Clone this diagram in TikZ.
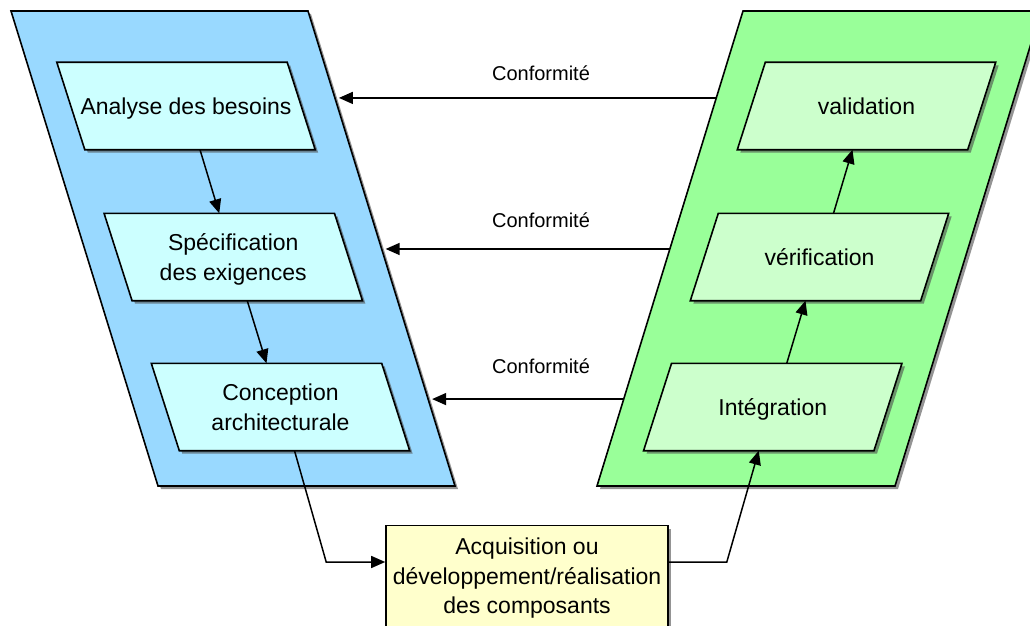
\documentclass[tikz,border=0pt]{standalone}
\usepackage{fontspec}
\setmainfont{Liberation Sans}
\usetikzlibrary{arrows.meta,calc,backgrounds,shadows}
\definecolor{leftback}{RGB}{153,217,255}
\definecolor{leftbox}{RGB}{204,255,255}
\definecolor{rightback}{RGB}{153,255,153}
\definecolor{rightbox}{RGB}{204,255,204}
\definecolor{acqbox}{RGB}{255,255,204}
\tikzset{
  phase/.style={
    rectangle,
    inner sep=0pt,
    minimum width=230pt,
    minimum height=87pt,
    text depth=0pt,
    align=center,
    font=\fontsize{23}{30}\selectfont
  },
  phase-frame/.style={draw=black, line width=1.6pt, line join=miter},
  casted/.style={drop shadow={shadow xshift=3pt, shadow yshift=-3pt, fill=black!70, opacity=0.6}},
  flow/.style={-{Triangle[length=14pt,width=12pt]}, line width=1.5pt},
  conf-label/.style={font=\fontsize{20}{24}\selectfont},
  acq-box/.style={
    phase-frame, casted, fill=acqbox,
    inner sep=0pt,
    minimum width=282pt,
    minimum height=101pt,
    text depth=0pt,
    align=center,
    font=\fontsize{23}{29.5}\selectfont
  }
}
\newcommand{\slantframe}[4]{% node, fill, top shift, bottom shift
  \draw[phase-frame, casted, fill=#2]
    ([xshift=#3pt]#1.north west) -- ([xshift=#3pt]#1.north east)
    -- ([xshift=#4pt]#1.south east) -- ([xshift=#4pt]#1.south west) -- cycle;
}

\begin{document}
\begin{tikzpicture}[x=1pt, y=-1pt]
  \clip (0,0) rectangle (1030,626);
  % Descending branch
  \node[phase] (ana) at (186,106) {Analyse des besoins};
  \node[phase] (spec) at (233.25,257) {Spécification\\des exigences};
  \node[phase] (conc) at (280.5,407) {Conception\\architecturale};
  % Ascending branch
  \node[phase] (integ) at (772.75,407) {Intégration};
  \node[phase] (verif) at (819.5,257) {vérification};
  \node[phase] (valid) at (866.5,106) {validation};
  % Bottom of the V
  \node[acq-box] (acq) at (527,576) {Acquisition ou\\développement/réalisation\\des composants};
  \coordinate (acqin) at ([yshift=14pt]acq.west);
  \coordinate (acqout) at ([yshift=14pt]acq.east);

  \begin{pgfonlayer}{background}
    % Big frames
    \coordinate (desc-tl) at (11,11);
    \coordinate (desc-tr) at (308,11);
    \coordinate (desc-br) at (455,486);
    \coordinate (desc-bl) at (158,486);
    \coordinate (asc-tl) at (743,11);
    \coordinate (asc-tr) at (1041,11);
    \coordinate (asc-br) at (895,486);
    \coordinate (asc-bl) at (597,486);
    \draw[phase-frame, casted, fill=leftback] (desc-tl) -- (desc-tr) -- (desc-br) -- (desc-bl) -- cycle;
    \draw[phase-frame, casted, fill=rightback] (asc-tl) -- (asc-tr) -- (asc-br) -- (asc-bl) -- cycle;
    % Phase boxes
    \slantframe{ana}{leftbox}{-14}{14}
    \slantframe{spec}{leftbox}{-14}{14}
    \slantframe{conc}{leftbox}{-14}{14}
    \slantframe{integ}{rightbox}{14}{-14}
    \slantframe{verif}{rightbox}{14}{-14}
    \slantframe{valid}{rightbox}{14}{-14}
  \end{pgfonlayer}

  % Flow
  \draw[flow] ([xshift=14pt]ana.south) -- ([xshift=-14pt]spec.north);
  \draw[flow] ([xshift=14pt]spec.south) -- ([xshift=-14pt]conc.north);
  \draw[flow] ([xshift=14pt]conc.south) -- ([xshift=-59pt]acqin) -- (acqin);
  \draw[flow] (acqout) -- ([xshift=58pt]acqout) -- ([xshift=-14pt]integ.south);
  \draw[flow] ([xshift=14pt]integ.north) -- ([xshift=-14pt]verif.south);
  \draw[flow] ([xshift=14pt]verif.north) -- ([xshift=-14pt]valid.south);

  % Conformity links
  \foreach \f/\ly [count=\i] in {0.183/73, 0.501/220, 0.817/366}{
    \draw[flow, shorten >=4pt] ($(asc-tl)!\f!(asc-bl)$) -- ($(desc-tr)!\f!(desc-br)$);
    \node[conf-label] (conf-\i) at (541,\ly) {Conformité};
  }
\end{tikzpicture}
\end{document}
